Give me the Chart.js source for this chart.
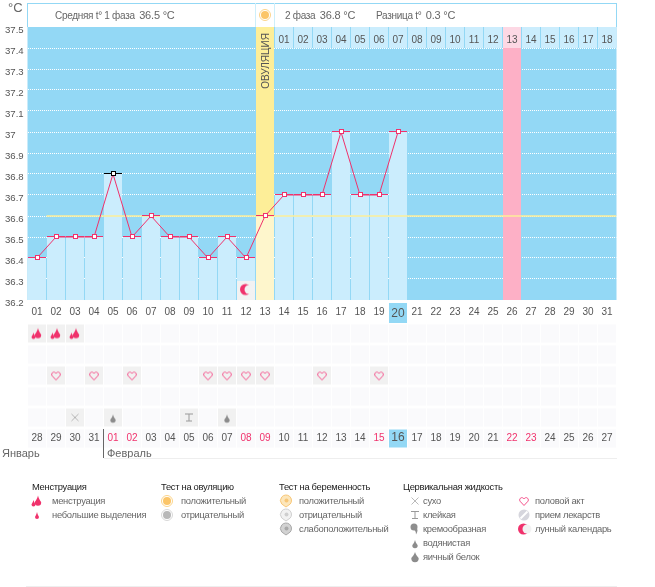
<!DOCTYPE html>
<html>
<head>
<meta charset="utf-8">
<script src="https://cdn.jsdelivr.net/npm/chart.js@4/dist/chart.umd.min.js"></script>
<style>
    html, body { margin: 0; padding: 0; background: #fff; }
    body { width: 655px; height: 587px; position: relative; overflow: hidden; font-family: "Liberation Sans", sans-serif; font-size: 10px; color: #666; }
    canvas { display: block; }
    #tempChart, #marksChart { position: absolute; left: 0; }
    #tempChart { top: 0; }
    #marksChart { top: 323px; }
    .abs { position: absolute; white-space: nowrap; }
    #head { position: absolute; left: 27px; top: 3px; width: 588px; height: 23px; border: 1px solid #93d8f5; border-bottom: 0; background: #fff; }
    #sunCell { position: absolute; left: 255px; top: 3px; width: 18px; height: 24px; border-left: 1px solid #cdeffb; border-right: 1px solid #cdeffb; }
    .big { font-size: 11px; letter-spacing: -0.2px; margin-left: 2px; }
    .head-text { font-size: 10px; letter-spacing: -0.3px; color: #666; top: 8px; line-height: 14px; }
    #ovu { left: 264.5px; top: 60.5px; transform: translate(-50%, -50%) rotate(-90deg); font-size: 10px; color: #555; }
    .leg { font-size: 9.4px; letter-spacing: -0.3px; color: #666; line-height: 14px; }
    .leg-h { font-size: 9.4px; letter-spacing: -0.3px; color: #222; line-height: 14px; }
    .leg-i { position: absolute; }
    .rule { position: absolute; height: 1px; background: #eee; }
</style>
</head>
<body>
<canvas id="tempChart" width="655" height="325"></canvas>
<canvas id="marksChart" width="655" height="140"></canvas>
<div id="head"></div>
<div id="sunCell"></div>
<div class="abs head-text" style="left:55px">Средняя t° 1 фаза <span class="big">36.5 °C</span></div>
<div class="abs head-text" style="left:285px">2 фаза <span class="big">36.8 °C</span></div>
<div class="abs head-text" style="left:376px">Разница t° <span class="big">0.3 °C</span></div>
<div class="abs" style="left:8px;top:0;font-size:13px;color:#666">°C</div>
<div class="abs" id="ovu">ОВУЛЯЦИЯ</div>
<div class="abs" style="left:2px;top:447px;font-size:11px;color:#666">Январь</div>
<div class="abs" style="left:107px;top:447px;font-size:11px;color:#666">Февраль</div>
<div class="abs" style="left:103px;top:429px;width:1px;height:29px;background:#666"></div>
<div class="rule" style="left:104px;top:458px;width:513px"></div>
<div class="rule" style="left:26px;top:586px;width:591px"></div>
<div id="legend"></div>
<script>
// day numbers along the main axis
const dayLabels = ['01', '02', '03', '04', '05', '06', '07', '08', '09', '10', '11', '12', '13', '14', '15', '16', '17', '18', '19', '20', '21', '22', '23', '24', '25', '26', '27', '28', '29', '30', '31'];
const cycleLabels = ['', '', '', '', '', '', '', '', '', '', '', '', '', '01', '02', '03', '04', '05', '06', '07', '08', '09', '10', '11', '12', '13', '14', '15', '16', '17', '18'];
const dateLabels = ['28', '29', '30', '31', '01', '02', '03', '04', '05', '06', '07', '08', '09', '10', '11', '12', '13', '14', '15', '16', '17', '18', '19', '20', '21', '22', '23', '24', '25', '26', '27'];
const tempTickLabels = ['36.2', '36.3', '36.4', '36.5', '36.6', '36.7', '36.8', '36.9', '37', '37.1', '37.2', '37.3', '37.4', '37.5'];
const temps = [36.4, 36.5, 36.5, 36.5, 36.8, 36.5, 36.6, 36.5, 36.5, 36.4, 36.5, 36.4, 36.6, 36.7, 36.7, 36.7, 37, 36.7, 36.7, 37];
const coverLine = 36.6;
const ovulationDay = '13';
const peakDay = '26';
const moonDay = '12';
const todayDay = '20';
const todayDate = '16';
const redDates = ['01', '02', '08', '09', '15', '22', '23'];
const rowNames = ['menses', 'ovulation', 'sex', 'other', 'fluid', 'date'];
const mensesDates = ['28', '29', '30'];
const sexDates = ['29', '31', '02', '06', '07', '08', '09', '12', '15'];
const dryDates = ['30'];
const stickyDates = ['05'];
const waterDates = ['01', '07'];

const CRIMSON = '#f0326c';
const BLUE = '#93d8f5';
const PALE_BLUE = '#cbedfd';
const font = 'Liberation Sans';

// ---- icons
function dropPath(c, x, y, r, h) {
    c.beginPath();
    c.moveTo(x, y - h);
    c.bezierCurveTo(x + r * 0.3, y - h * 0.4, x + r, y - r * 0.3, x + r, y);
    c.arc(x, y, r, 0, Math.PI);
    c.bezierCurveTo(x - r, y - r * 0.3, x - r * 0.3, y - h * 0.4, x, y - h);
    c.fill();
}

const iconDraw = {
    drops(c) {
        c.fillStyle = CRIMSON;
        dropPath(c, 4.5, 11.5, 2, 4.5);
        dropPath(c, 9, 9.5, 3.2, 7);
    },
    drop(c) {
        c.fillStyle = CRIMSON;
        dropPath(c, 8, 10, 2, 5);
    },
    heart(c) {
        c.strokeStyle = '#f4508a';
        c.lineWidth = 1;
        c.beginPath();
        c.moveTo(8, 12.5);
        c.lineTo(4, 8.2);
        c.bezierCurveTo(2.5, 5.5, 6.2, 3, 8, 6);
        c.bezierCurveTo(9.8, 3, 13.5, 5.5, 12, 8.2);
        c.closePath();
        c.stroke();
    },
    dry(c) {
        c.strokeStyle = '#a8a8a8';
        c.lineWidth = 0.8;
        c.beginPath();
        c.moveTo(4.5, 4.5);
        c.lineTo(11.5, 11.5);
        c.moveTo(11.5, 4.5);
        c.lineTo(4.5, 11.5);
        c.stroke();
    },
    sticky(c) {
        c.fillStyle = '#999';
        c.fillRect(4, 4, 8, 1);
        c.fillRect(7.5, 5, 1, 6);
        c.fillRect(5, 11, 6, 1);
    },
    cream(c) {
        c.fillStyle = '#8e8e8e';
        c.beginPath();
        c.arc(7, 6, 3.5, 0, Math.PI * 2);
        c.fill();
        c.beginPath();
        c.moveTo(9, 6);
        c.quadraticCurveTo(12, 9, 9, 13.5);
        c.quadraticCurveTo(9, 9, 6, 8);
        c.fill();
    },
    water(c) {
        c.fillStyle = '#8c8c8c';
        dropPath(c, 8, 10.5, 2.7, 5.5);
    },
    egg(c) {
        c.fillStyle = '#8c8c8c';
        dropPath(c, 8, 9.5, 3.7, 6.5);
    },
    pill(c) {
        c.fillStyle = '#d6d6dd';
        c.beginPath();
        c.arc(8, 8, 5.5, 0, Math.PI * 2);
        c.fill();
        c.strokeStyle = '#fff';
        c.lineWidth = 2;
        c.beginPath();
        c.moveTo(4.5, 11.5);
        c.lineTo(11.5, 4.5);
        c.stroke();
    },
    moon(c) {
        c.fillStyle = CRIMSON;
        c.beginPath();
        c.arc(7.5, 8, 5.5, 0, Math.PI * 2);
        c.fill();
        c.fillStyle = '#f2f2f2';
        c.beginPath();
        c.arc(11, 8, 4.5, 0, Math.PI * 2);
        c.fill();
    },
    ovuPos(c) { ringDot(c, '#fbd48a', '#fbc568'); },
    ovuNeg(c) { ringDot(c, '#d8d8d8', '#b8b8b8'); },
    pregPos(c) { shield(c, '#f7c677', '#fce6bb'); },
    pregNeg(c) { shield(c, '#cfcfcf', '#f2f2f2'); },
    pregWeak(c) { shield(c, '#a8a8a8', '#d2d2d2'); }
};

function ringDot(c, ring, dot) {
    c.strokeStyle = ring;
    c.lineWidth = 1;
    c.beginPath();
    c.arc(8, 8, 5.5, 0, Math.PI * 2);
    c.stroke();
    c.fillStyle = dot;
    c.beginPath();
    c.arc(8, 8, 4, 0, Math.PI * 2);
    c.fill();
}

function shield(c, line, fill) {
    c.fillStyle = fill;
    c.strokeStyle = line;
    c.lineWidth = 1;
    c.beginPath();
    c.arc(8, 7.5, 5.5, 0.7, Math.PI - 0.7, true);
    c.lineTo(8, 14);
    c.closePath();
    c.fill();
    c.stroke();
    c.fillStyle = line;
    c.beginPath();
    c.arc(8.5, 7.5, 2, 0, Math.PI * 2);
    c.fill();
}

function makeIcon(name) {
    const cv = document.createElement('canvas');
    cv.width = 16;
    cv.height = 16;
    iconDraw[name](cv.getContext('2d'));
    return cv;
}

// square marker plus the flat tick along the top of the bar
function makeMark(color) {
    const cv = document.createElement('canvas');
    cv.width = 18;
    cv.height = 6;
    const c = cv.getContext('2d');
    c.fillStyle = color;
    c.fillRect(0, 2, 18, 1);
    c.fillRect(7, 0, 5, 5);
    c.fillStyle = '#fff';
    c.fillRect(8, 1, 3, 3);
    return cv;
}

// ---- temperature chart
const bgPlugin = {
    id: 'plotBackground',
    beforeDraw(chart) {
        const { ctx, chartArea: a, scales } = chart;
        ctx.save();
        ctx.fillStyle = BLUE;
        ctx.fillRect(a.left, a.top, a.right - a.left, a.bottom - a.top);
        // today's cell behind the axis label
        const tx = scales.x.getPixelForValue(todayDay);
        ctx.fillRect(tx - 9, 303, 18, 20);
        ctx.restore();
    }
};

const tempBarColors = dayLabels.map(d => d === ovulationDay ? '#fef6cc' : PALE_BLUE);
const redMark = makeMark(CRIMSON);
const blackMark = makeMark('#000');

new Chart(document.getElementById('tempChart'), {
    type: 'bar',
    plugins: [bgPlugin],
    data: {
        labels: dayLabels,
        datasets: [
            {
                type: 'line',
                xAxisID: 'xLine',
                data: [{ x: 1, y: coverLine }, { x: 31, y: coverLine }],
                borderColor: '#fdee98',
                borderWidth: 1.5,
                pointRadius: 0,
                order: 2
            },
            {
                type: 'line',
                data: temps,
                borderColor: CRIMSON,
                borderWidth: 1,
                tension: 0,
                pointStyle: temps.map(t => t === 36.8 ? blackMark : redMark),
                order: 1
            },
            {
                type: 'scatter',
                data: [{ x: moonDay, y: 36.25 }],
                pointStyle: makeIcon('moon'),
                order: 1
            },
            {
                data: [{ x: moonDay, y: [36.2, 36.29] }],
                grouped: false,
                backgroundColor: '#f2f2f2',
                barPercentage: 1,
                categoryPercentage: 18 / 19,
                order: 2.5
            },
            {
                data: temps,
                grouped: false,
                backgroundColor: tempBarColors,
                barPercentage: 1,
                categoryPercentage: 18 / 19,
                order: 3
            },
            {
                data: [{ x: ovulationDay, y: [36.2, 37.5] }],
                grouped: false,
                backgroundColor: '#fdee98',
                barPercentage: 1,
                categoryPercentage: 18 / 19,
                order: 4
            },
            {
                data: [{ x: peakDay, y: [36.2, 37.4] }],
                grouped: false,
                backgroundColor: '#fdb0c6',
                barPercentage: 1,
                categoryPercentage: 18 / 19,
                order: 4
            },
            {
                data: dayLabels.map((d, i) => ({ x: d, y: cycleLabels[i] ? [37.4, 37.5] : null })),
                grouped: false,
                backgroundColor: dayLabels.map(d => d === peakDay ? '#fdd8e4' : PALE_BLUE),
                barPercentage: 1,
                categoryPercentage: 18 / 19,
                order: 4
            }
        ]
    },
    options: {
        responsive: false,
        animation: false,
        layout: { autoPadding: false, padding: { left: 5, right: 38.5, top: 27, bottom: 0 } },
        plugins: { legend: { display: false }, tooltip: { enabled: false } },
        scales: {
            x: {
                offset: true,
                grid: { display: false, drawTicks: false },
                border: { display: false },
                afterFit(s) { s.height = 25; },
                ticks: {
                    autoSkip: false,
                    maxRotation: 0,
                    padding: 6,
                    color: '#555',
                    font: c => ({ family: font, size: dayLabels[c.index] === todayDay ? 12 : 10 })
                }
            },
            xCycle: {
                type: 'category',
                position: 'top',
                labels: cycleLabels,
                offset: true,
                grid: { display: false, drawTicks: false },
                border: { display: false },
                afterFit(s) { s.height = 0; },
                // mirrored labels: positive padding moves them down into the band
                ticks: { autoSkip: false, maxRotation: 0, mirror: true, padding: 7, z: 2, color: '#555', font: { family: font, size: 10 } }
            },
            xLine: { type: 'linear', display: false, min: 0, max: 31, offset: false },
            y: {
                min: 36.2,
                max: 37.5,
                afterFit(s) { s.width = 22.5; },
                border: { display: false, dash: [1, 1] },
                grid: {
                    color: c => c.index === tempTickLabels.length - 1 ? 'transparent' : '#fff',
                    drawTicks: false
                },
                ticks: {
                    stepSize: 0.1,
                    crossAlign: 'far',
                    autoSkip: false,
                    color: '#555',
                    // the empty first line pushes the label a little below its gridline
                    font: { family: font, size: 9.6, lineHeight: '6px' },
                    callback: (v, i) => ['', tempTickLabels[i]]
                }
            }
        }
    }
});

// ---- marks under the chart
const cellPoints = [];
const cellColors = [];
rowNames.forEach(row => {
    dateLabels.forEach(d => {
        let color = '#fafafc';
        if (row === 'menses' && mensesDates.includes(d)) color = '#f1f1f1';
        if (row === 'sex' && sexDates.includes(d)) color = '#f1f1f1';
        if (row === 'fluid' && (dryDates.includes(d) || stickyDates.includes(d) || waterDates.includes(d))) color = '#f1f1f1';
        if (row === 'date' && d === todayDate) color = BLUE;
        cellPoints.push({ x: d, y: row });
        cellColors.push(color);
    });
});

function iconSet(dates, row, name) {
    return {
        data: dates.map(d => ({ x: d, y: row })),
        pointStyle: makeIcon(name),
        pointRadius: 8
    };
}

new Chart(document.getElementById('marksChart'), {
    type: 'scatter',
    data: {
        datasets: [
            iconSet(mensesDates, 'menses', 'drops'),
            iconSet(sexDates, 'sex', 'heart'),
            iconSet(dryDates, 'fluid', 'dry'),
            iconSet(stickyDates, 'fluid', 'sticky'),
            iconSet(waterDates, 'fluid', 'water'),
            {
                data: cellPoints,
                pointStyle: 'rect',
                pointRadius: 9 * Math.SQRT2,
                pointBorderWidth: 0,
                pointBackgroundColor: cellColors,
                order: 5
            }
        ]
    },
    options: {
        responsive: false,
        animation: false,
        // without this the big cell points shrink the plot area
        layout: { autoPadding: false, padding: { left: 27.5, right: 38.5, top: 0, bottom: 14 } },
        plugins: { legend: { display: false }, tooltip: { enabled: false } },
        scales: {
            x: {
                type: 'category',
                labels: dateLabels,
                offset: true,
                grid: { display: false, drawTicks: false },
                border: { display: false },
                afterFit(s) { s.height = 0; },
                ticks: {
                    autoSkip: false,
                    maxRotation: 0,
                    mirror: true,
                    padding: 4.5,
                    z: 2,
                    color: c => redDates.includes(dateLabels[c.index]) ? CRIMSON : '#555',
                    font: c => ({ family: font, size: dateLabels[c.index] === todayDate ? 12 : 10 })
                }
            },
            y: {
                type: 'category',
                labels: rowNames,
                offset: true,
                display: false
            }
        }
    }
});

// ---- legend below
const legendHeads = [
    [32, 'Менструация'], [161, 'Тест на овуляцию'], [279, 'Тест на беременность'], [403, 'Цервикальная жидкость']
];
const legendItems = [
    [37, 52, 0, 'drops', 'менструация'],
    [37, 52, 1, 'drop', 'небольшие выделения'],
    [167, 181, 0, 'ovuPos', 'положительный'],
    [167, 181, 1, 'ovuNeg', 'отрицательный'],
    [286, 299, 0, 'pregPos', 'положительный'],
    [286, 299, 1, 'pregNeg', 'отрицательный'],
    [286, 299, 2, 'pregWeak', 'слабоположительный'],
    [415, 423, 0, 'dry', 'сухо'],
    [415, 423, 1, 'sticky', 'клейкая'],
    [415, 423, 2, 'cream', 'кремообразная'],
    [415, 423, 3, 'water', 'водянистая'],
    [415, 423, 4, 'egg', 'яичный белок'],
    [524, 535, 0, 'heart', 'половой акт'],
    [524, 535, 1, 'pill', 'прием лекарств'],
    [524, 535, 2, 'moon', 'лунный календарь']
];
const legendEl = document.getElementById('legend');
legendHeads.forEach(h => {
    const el = document.createElement('div');
    el.className = 'abs leg-h';
    el.style.left = h[0] + 'px';
    el.style.top = '480px';
    el.textContent = h[1];
    legendEl.appendChild(el);
});
legendItems.forEach(it => {
    const y = 501 + it[2] * 14;
    const icon = makeIcon(it[3]);
    icon.className = 'leg-i';
    icon.style.left = (it[0] - 8) + 'px';
    icon.style.top = (y - 8) + 'px';
    legendEl.appendChild(icon);
    const el = document.createElement('div');
    el.className = 'abs leg';
    el.style.left = it[1] + 'px';
    el.style.top = (y - 7) + 'px';
    el.textContent = it[4];
    legendEl.appendChild(el);
});

// sun icon in the header
const sun = makeIcon('ovuPos');
sun.className = 'leg-i';
sun.style.left = '257px';
sun.style.top = '7px';
document.body.appendChild(sun);
</script>
</body>
</html>
